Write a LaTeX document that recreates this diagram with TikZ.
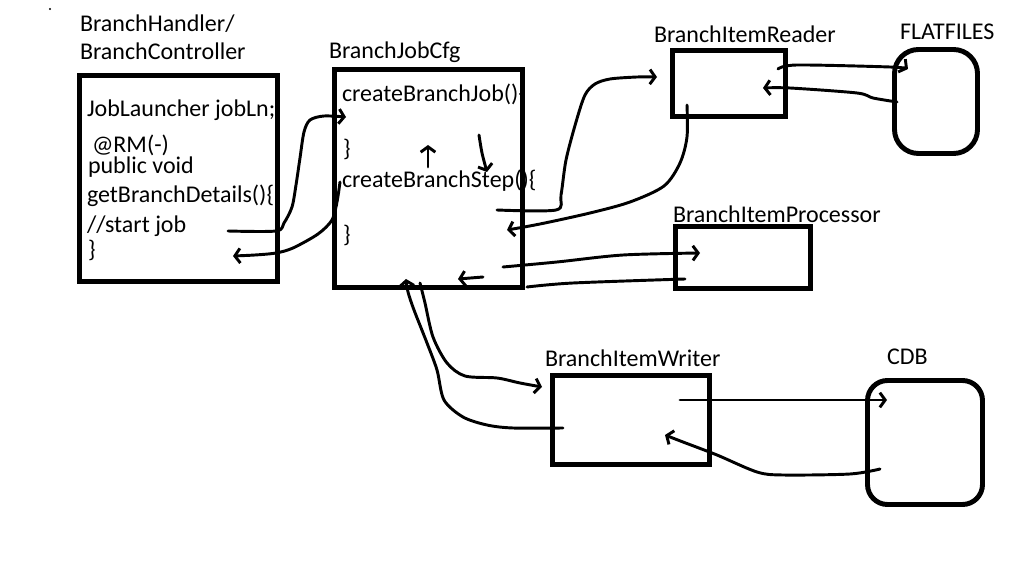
\documentclass[tikz,border=0pt]{standalone}
\usepackage{fontspec}
\setmainfont{Carlito}
\usetikzlibrary{arrows.meta,fit}
\begin{document}
\begin{tikzpicture}[x=0.75pt,y=-0.75pt,
  txt/.style={anchor=base west, inner sep=0pt, outer sep=0pt, font=\fontsize{18}{20}\selectfont},
  sqbox/.style={draw, line width=3.7pt, inner sep=0pt, outer sep=0pt},
  rndbox/.style={sqbox, rounded corners=#1},
  wire/.style={line width=2.2pt, line cap=round, line join=round},
  tip/.style={-{Straight Barb[length=4pt,width=11pt,line width=2.2pt]}}]
\useasboundingbox (0,0) rectangle (1018,577);
\fill (50,9) circle[radius=0.8pt];

% ---- texts ----
\node[txt] (t1) at (80,32) {BranchHandler/};
\node[txt] (t2) at (80,60) {BranchController};
\node[txt] (t3) at (329,59) {BranchJobCfg};
\node[txt] (t4) at (87,117) {JobLauncher jobLn;};
\node[txt] (t5) at (92,153) {@RM(-)};
\node[txt] (t6) at (88,174) {public void};
\node[txt] (t7) at (87,203) {getBranchDetails()\{};
\node[txt] (t8) at (87,233) {//start job};
\node[txt] (t9) at (88,258) {\}};
\node[txt] (t10) at (342,102) {createBranchJob()\{};
\node[txt] (t11) at (343,157) {\}};
\node[txt] (t12) at (342,188) {createBranchStep()\{};
\node[txt] (t13) at (343,243) {\}};
\node[txt] (t14) at (654,43) {BranchItemReader};
\node[txt] (t15) at (900,40) {FLATFILES};
\node[txt] (t16) at (673,223) {BranchItemProcessor};
\node[txt] (t17) at (545,367) {BranchItemWriter};
\node[txt] (t18) at (887,365) {CDB};

% ---- boxes ----
\coordinate (h1) at (79.5,75.5);   \coordinate (h2) at (277.5,281.5);
\coordinate (g1) at (334.5,69.5);  \coordinate (g2) at (522.5,287.5);
\coordinate (r1) at (672.5,50.5);  \coordinate (r2) at (785.5,116.5);
\coordinate (f1) at (894.5,49.5);  \coordinate (f2) at (977.5,153.5);
\coordinate (p1) at (675.5,226.5); \coordinate (p2) at (810.5,288.5);
\coordinate (w1) at (552.5,375.5); \coordinate (w2) at (709.5,464.5);
\coordinate (d1) at (867.5,380.5); \coordinate (d2) at (982.5,504.5);
\node[sqbox, fit=(h1)(h2)] (handler) {};
\node[sqbox, fit=(g1)(g2)] (cfg) {};
\node[sqbox, fit=(r1)(r2)] (reader) {};
\node[rndbox=18pt, fit=(f1)(f2)] (flat) {};
\node[sqbox, fit=(p1)(p2)] (proc) {};
\node[sqbox, fit=(w1)(w2)] (writer) {};
\node[rndbox=15pt, fit=(d1)(d2)] (cdb) {};

% ---- connector end points ----
\coordinate (a1s) at (228,231);  \coordinate (a1e) at (346,117);
\coordinate (a2s) at (340,182);  \coordinate (a2e) at (233,256);
\coordinate (a3s) at (497,210);  \coordinate (a3e) at (657,77);
\coordinate (a4s) at (687,105);  \coordinate (a4e) at (507,230);
\coordinate (a5s) at (778,69);   \coordinate (a5e) at (908,69);
\coordinate (a6s) at (897,102);  \coordinate (a6e) at (763,88);
\coordinate (a7s) at (503,267);  \coordinate (a7e) at (700,253);
\coordinate (a8s) at (685,279);  \coordinate (a8m) at (527,287);
\coordinate (a8t) at (483,277);  \coordinate (a8e) at (458,279);
\coordinate (a9s) at (563,428);  \coordinate (a9e) at (406,279);
\coordinate (a10s) at (420,283); \coordinate (a10e) at (542,387);
\coordinate (a11s) at (680,400); \coordinate (a11e) at (887,400);
\coordinate (a12s) at (880,469); \coordinate (a12e) at (665,435);
\coordinate (u1) at (428,167);   \coordinate (u2) at (428,145);
\coordinate (v1) at (479,135);   \coordinate (v2) at (487,172);

% ---- connectors ----
\draw[wire,tip] plot[smooth,tension=0.5] coordinates {(a1s) (276,231) (284,223) (292,207) (296,185) (300,158) (304,132) (310,120) (324,116) (a1e)};
\draw[wire,tip] plot[smooth,tension=0.5] coordinates {(a2s) (337,202) (332,220) (318,234) (293,248) (276,253) (255,255) (a2e)};
\draw[wire,tip] plot[smooth,tension=0.5] coordinates {(a3s) (556,210) (561,195) (566,160) (576,122) (585,95) (595,84) (610,79) (637,77) (a3e)};
\draw[wire,tip] plot[smooth,tension=0.5] coordinates {(a4s) (687,137) (680,163) (664,186) (630,202) (590,213) (540,224) (a4e)};
\draw[wire,tip] plot[smooth,tension=0.5] coordinates {(a5s) (797,65) (890,67) (a5e)};
\draw[wire,tip] plot[smooth,tension=0.5] coordinates {(a6s) (873,98) (857,93) (790,88) (a6e)};
\draw[wire,tip] plot[smooth,tension=0.5] coordinates {(a7s) (557,262) (623,255) (a7e)};
\draw[wire] plot[smooth,tension=0.5] coordinates {(a8s) (573,283) (a8m)};
\draw[wire,tip] (a8t) -- (a8e);
\draw[wire,tip] plot[smooth,tension=0.5] coordinates {(a9s) (513,428) (487,425) (463,417) (444,400) (437,370) (427,343) (414,310) (408,292) (a9e)};
\draw[wire,tip] plot[smooth,tension=0.5] coordinates {(a10s) (425,303) (433,337) (447,363) (465,376) (497,378) (520,383) (a10e)};
\draw[wire,tip] (a11s) -- (a11e);
\draw[wire,tip] plot[smooth,tension=0.5] coordinates {(a12s) (850,474) (783,475) (757,472) (717,455) (683,442) (a12e)};
\draw[wire,tip] (u1) -- (u2);
\draw[wire,tip] plot[smooth,tension=0.5] coordinates {(v1) (482,153) (v2)};
\end{tikzpicture}
\end{document}
